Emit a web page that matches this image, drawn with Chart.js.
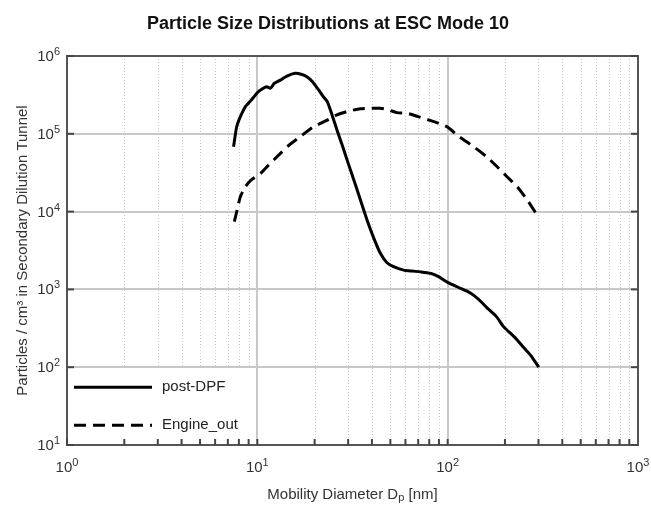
<!DOCTYPE html>
<html><head><meta charset="utf-8">
<script src="https://cdn.jsdelivr.net/npm/chart.js@4/dist/chart.umd.min.js"></script>
<style>html,body{margin:0;padding:0;background:#fff}</style>
</head><body>
<canvas id="c" width="651" height="509"></canvas>
<script>
// ---- text ----
const chartTitle = "Particle Size Distributions at ESC Mode 10";
const xAxisTitle = ["Mobility Diameter D", "p", " [nm]"];
const yAxisTitle = "Particles / cm\u00B3 in Secondary Dilution Tunnel";
const seriesLabels = ["post-DPF", "Engine_out"];

// ---- tick labels (base, exponent) ----
const xTickExps = [0, 1, 2, 3];
const yTickExps = [1, 2, 3, 4, 5, 6];

// ---- data: post-DPF ----
const dpPost = [7.5, 7.76, 8.0, 8.65, 9.3, 10.0, 10.4, 11.2, 11.7, 12.3, 13.2, 14.3, 15.8, 17.0, 18.2, 19.5, 21.0, 22.2, 23.3, 24.7, 26.2, 28, 30, 33, 37.7, 41, 44.3, 48, 52, 58.7, 65, 72, 81, 90, 100, 115, 131.6, 145, 161, 180, 197, 215, 232, 250, 272, 283, 301];
const nPost = [68000, 118000, 150000, 223000, 272000, 337000, 366000, 403000, 385000, 446000, 490000, 553000, 600000, 582000, 542000, 468000, 366000, 300000, 259000, 175000, 112000, 70000, 42000, 21000, 7800, 4500, 2910, 2200, 1960, 1770, 1720, 1680, 1610, 1450, 1230, 1050, 900, 750, 580, 450, 330, 270, 224, 180, 144, 125, 100];

// ---- data: Engine_out ----
const dpEng = [7.57, 7.9, 8.14, 8.65, 9.3, 10.4, 11.5, 12.7, 14.5, 16.8, 19.5, 23.3, 26.2, 30, 34.8, 39.2, 44.3, 48, 54.2, 61.2, 70, 80, 90, 99.3, 115, 137, 160, 182, 205, 232, 262, 295];
const nEng = [7420, 11500, 15500, 20900, 25500, 31000, 40000, 50800, 69700, 91900, 121000, 150000, 175000, 195000, 210000, 213000, 213000, 206000, 187000, 184000, 166000, 150000, 136000, 123000, 92000, 68200, 50800, 37700, 28100, 20900, 14100, 9040];

const FONT = '"Liberation Sans", Arial, sans-serif';
const TITLE_FONT = '"Liberation Sans Narrow", "Liberation Sans", Arial, sans-serif';

function pts(xs, ys) { return xs.map((x, i) => ({ x: x, y: ys[i] })); }

const decor = {
  id: 'decor',
  beforeDatasetsDraw(chart) {
    const ctx = chart.ctx, a = chart.chartArea, xs = chart.scales.x, ys = chart.scales.y;
    ctx.save();
    // minor dotted vertical grid lines
    ctx.strokeStyle = '#c9c9c9';
    ctx.lineWidth = 1;
    ctx.setLineDash([1, 2]);
    for (let e = 0; e < 3; e++) {
      for (let m = 2; m <= 9; m++) {
        const px = Math.round(xs.getPixelForValue(m * Math.pow(10, e))) + 0.5;
        ctx.beginPath(); ctx.moveTo(px, a.top); ctx.lineTo(px, a.bottom); ctx.stroke();
      }
    }
    ctx.setLineDash([]);
    // legend background box
    const boxTop = ys.getPixelForValue(100) + 1;
    const boxRight = xs.getPixelForValue(9.6);
    ctx.fillStyle = '#ffffff';
    ctx.fillRect(a.left + 1, boxTop, boxRight - a.left - 1, a.bottom - boxTop);
    ctx.restore();
  },
  afterDatasetsDraw(chart) {
    const ctx = chart.ctx, a = chart.chartArea, xs = chart.scales.x, ys = chart.scales.y;
    ctx.save();
    // frame
    ctx.strokeStyle = '#555555';
    ctx.lineWidth = 2;
    ctx.strokeRect(a.left, a.top, a.right - a.left, a.bottom - a.top);
    // tick marks
    ctx.strokeStyle = '#444444';
    ctx.lineWidth = 2;
    for (let e = 0; e < 3; e++) {
      for (let m = 1; m <= 9; m++) {
        const px = xs.getPixelForValue(m * Math.pow(10, e));
        ctx.beginPath(); ctx.moveTo(px, a.bottom); ctx.lineTo(px, a.bottom - 6); ctx.stroke();
      }
    }
    yTickExps.forEach(k => {
      const py = ys.getPixelForValue(Math.pow(10, k));
      ctx.beginPath(); ctx.moveTo(a.left, py); ctx.lineTo(a.left + 7, py); ctx.stroke();
      ctx.beginPath(); ctx.moveTo(a.right, py); ctx.lineTo(a.right - 7, py); ctx.stroke();
    });
    // tick labels with superscript exponents
    ctx.fillStyle = '#333333';
    ctx.textBaseline = 'alphabetic';
    const base = '15px ' + FONT, sup = '11px ' + FONT;
    function label(exp, x, y, align) {
      ctx.font = base; const w1 = ctx.measureText('10').width;
      ctx.font = sup; const w2 = ctx.measureText(String(exp)).width;
      const w = w1 + w2;
      let x0 = align === 'right' ? x - w : x - w / 2;
      ctx.textAlign = 'left';
      ctx.font = base; ctx.fillText('10', x0, y);
      ctx.font = sup; ctx.fillText(String(exp), x0 + w1, y - 6);
    }
    xTickExps.forEach(k => label(k, xs.getPixelForValue(Math.pow(10, k)), a.bottom + 27, 'center'));
    yTickExps.forEach(k => label(k, a.left - 7, ys.getPixelForValue(Math.pow(10, k)) + 5, 'right'));
    // x axis title with subscript
    ctx.font = '15px ' + FONT;
    const t0 = xAxisTitle[0], t2 = xAxisTitle[2];
    const wa = ctx.measureText(t0).width, wc = ctx.measureText(t2).width;
    ctx.font = '11px ' + FONT; const wb = ctx.measureText(xAxisTitle[1]).width;
    const cx = (a.left + a.right) / 2;
    let x0 = cx - (wa + wb + wc) / 2;
    const by = 499;
    ctx.textAlign = 'left';
    ctx.font = '15px ' + FONT; ctx.fillText(t0, x0, by);
    ctx.font = '11px ' + FONT; ctx.fillText(xAxisTitle[1], x0 + wa, by + 2);
    ctx.font = '15px ' + FONT; ctx.fillText(t2, x0 + wa + wb, by);
    // y axis title
    ctx.save();
    ctx.translate(27, (a.top + a.bottom) / 2);
    ctx.rotate(-Math.PI / 2);
    ctx.textAlign = 'center';
    ctx.font = '15px ' + FONT;
    ctx.fillText(yAxisTitle, 0, 0);
    ctx.restore();
    // chart title
    ctx.fillStyle = '#111111';
    ctx.textAlign = 'center';
    ctx.font = 'bold 18px ' + TITLE_FONT;
    ctx.fillText(chartTitle, 328, 29);
    // legend
    const ly = [ys.getPixelForValue(100) + 20, ys.getPixelForValue(100) + 58];
    chart.data.datasets.forEach((ds, i) => {
      ctx.strokeStyle = ds.borderColor;
      ctx.lineWidth = ds.borderWidth;
      ctx.setLineDash(ds.borderDash || []);
      ctx.beginPath(); ctx.moveTo(a.left + 7, ly[i]); ctx.lineTo(a.left + 85, ly[i]); ctx.stroke();
      ctx.setLineDash([]);
      ctx.fillStyle = '#222222';
      ctx.font = '15px ' + FONT;
      ctx.textAlign = 'left';
      ctx.textBaseline = 'middle';
      ctx.fillText(ds.label, a.left + 95, ly[i]);
      ctx.textBaseline = 'alphabetic';
    });
    ctx.restore();
  }
};

new Chart(document.getElementById('c'), {
  type: 'line',
  data: {
    datasets: [
      { label: seriesLabels[0], data: pts(dpPost, nPost), borderColor: '#000000', borderWidth: 3, pointRadius: 0, tension: 0.2, fill: false, borderJoinStyle: 'round', borderCapStyle: 'butt' },
      { label: seriesLabels[1], data: pts(dpEng, nEng), borderColor: '#000000', borderWidth: 3, borderDash: [12, 7], pointRadius: 0, tension: 0.2, fill: false }
    ]
  },
  options: {
    responsive: false,
    animation: false,
    devicePixelRatio: 1,
    layout: { padding: { left: 67, right: 13, top: 56, bottom: 64 } },
    plugins: { legend: { display: false }, title: { display: false }, tooltip: { enabled: false } },
    scales: {
      x: {
        type: 'logarithmic', min: 1, max: 1000,
        afterBuildTicks: s => { s.ticks = xTickExps.map(k => ({ value: Math.pow(10, k) })); },
        ticks: { display: false },
        grid: { color: '#c8c8c8', lineWidth: 2, drawTicks: false },
        border: { display: false }
      },
      y: {
        type: 'logarithmic', min: 10, max: 1e6,
        afterBuildTicks: s => { s.ticks = yTickExps.map(k => ({ value: Math.pow(10, k) })); },
        ticks: { display: false },
        grid: { color: '#c8c8c8', lineWidth: 2, drawTicks: false },
        border: { display: false }
      }
    }
  },
  plugins: [decor]
});
</script>
</body></html>
